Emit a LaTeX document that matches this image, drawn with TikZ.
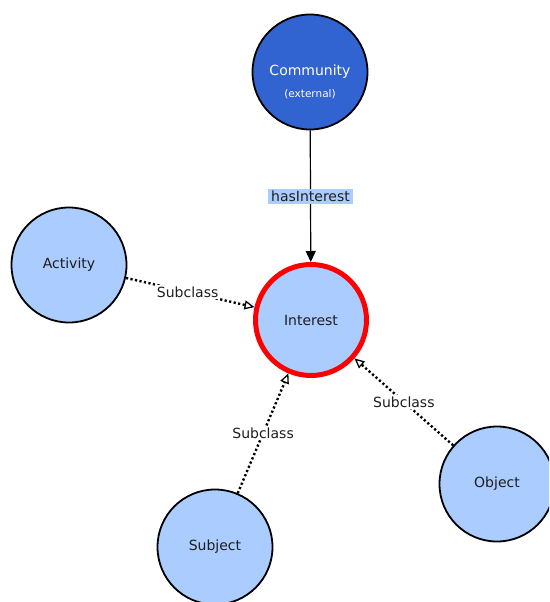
\documentclass[tikz,border=0pt]{standalone}
\usepackage{fontspec}
\setmainfont{DejaVu Sans}
\usetikzlibrary{arrows.meta}
\definecolor{lightnode}{HTML}{AACCFF}
\definecolor{darknode}{HTML}{3163D1}
\definecolor{textgray}{HTML}{1E1E1E}
\begin{document}
\begin{tikzpicture}[x=1pt,y=1pt,
  cls/.style={circle, draw=black, line width=1.8pt, fill=lightnode, minimum size=115pt, inner sep=0pt, text=textgray, font=\fontsize{14}{16}\selectfont},
  focus/.style={cls, draw=red, line width=5pt, minimum size=111pt},
  ext/.style={cls, fill=darknode, text=white},
  subedge/.style={line width=2.4pt, dash pattern=on 2.2pt off 2.4pt, -{Triangle[open, length=10pt, width=9pt, line width=1.3pt, sep=0pt]}},
  relEdge/.style={line width=1.2pt, -{Triangle[length=11pt, width=10pt]}},
  sublabel/.style={fill=white, inner sep=1.5pt, text=textgray, font=\fontsize{14}{16}\selectfont},
  rellabel/.style={fill=lightnode, inner xsep=3pt, inner ysep=2pt, text=textgray, font=\fontsize{14}{16}\selectfont},
  subtext/.style={text=white, inner sep=0pt, font=\fontsize{10.5}{12}\selectfont}
]
\useasboundingbox (0,0) rectangle (549,-602);
\clip (0,0) rectangle (549,-602);
\fill[white] (0,0) rectangle (549,-602);
\node[focus] (interest) at (311,-320) {Interest};
\node[ext] (community) at (310,-72) {};
\node[text=white, inner sep=0pt, font=\fontsize{14}{16}\selectfont] (commname) at (310,-72) {Community};
\node[subtext] (commext) at (310,-94) {(external)};
\node[cls] (activity) at (69,-265) {Activity};
\node[cls] (subject) at (215,-547) {Subject};
\node[cls] (object) at (497,-484) {Object};
\draw[relEdge] (community) -- node[rellabel] (lblhas) {hasInterest} (interest);
\draw[subedge] (activity) -- node[sublabel, pos=0.48] (lbla) {Subclass} (interest);
\draw[subedge] (subject) -- node[sublabel, pos=0.5] (lbls) {Subclass} (interest);
\draw[subedge] (object) -- node[sublabel, pos=0.5] (lblo) {Subclass} (interest);
\end{tikzpicture}
\end{document}
